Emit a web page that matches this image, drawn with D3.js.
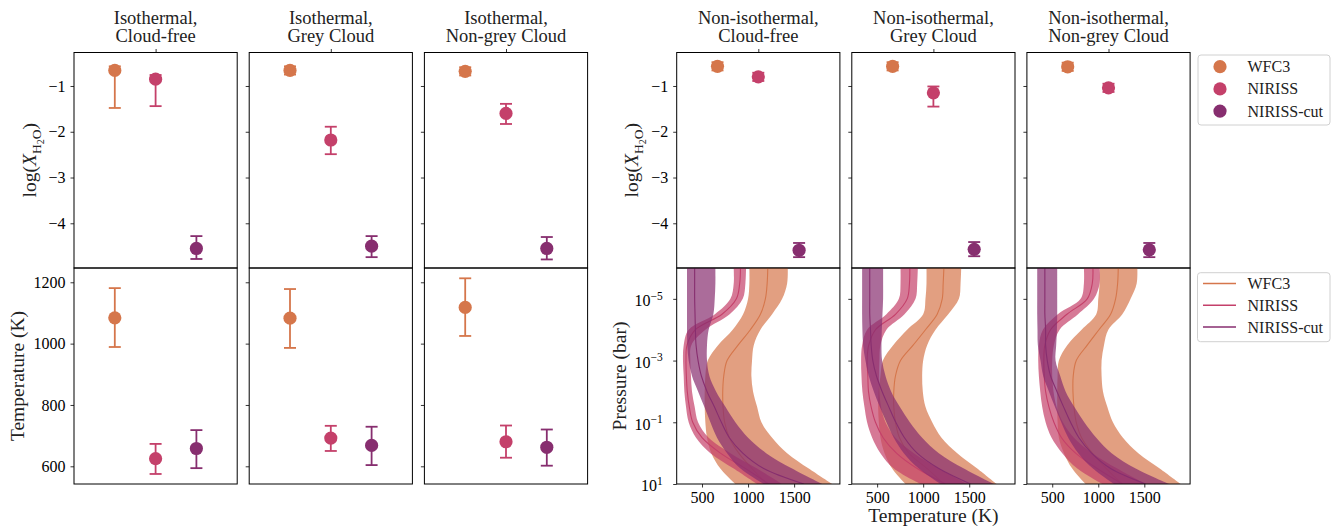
<!DOCTYPE html>
<html><head><meta charset="utf-8">
<script src="https://cdn.jsdelivr.net/npm/d3@7"></script>
<style>body{margin:0;background:#fff}</style>
</head><body>
<svg id="c" width="1341" height="528" xmlns="http://www.w3.org/2000/svg"></svg>
<script>
// ---------------- DATA ----------------
const instruments = ["WFC3", "NIRISS", "NIRISS-cut"];
const colors = ["#d5764b", "#c4406a", "#872e6f"];
const isoTitles = [["Isothermal,", "Cloud-free"], ["Isothermal,", "Grey Cloud"], ["Isothermal,", "Non-grey Cloud"]];
const nonIsoTitles = [["Non-isothermal,", "Cloud-free"], ["Non-isothermal,", "Grey Cloud"], ["Non-isothermal,", "Non-grey Cloud"]];

// log(X_H2O) per panel (6 panels), per instrument [WFC3, NIRISS, NIRISS-cut]
const h2oMed = [[-0.66, -0.85, -4.55], [-0.66, -2.18, -4.50], [-0.68, -1.60, -4.55],
                [-0.57, -0.80, -4.59], [-0.57, -1.15, -4.57], [-0.58, -1.04, -4.58]];
const h2oLo  = [[-1.48, -1.44, -4.78], [-0.75, -2.49, -4.74], [-0.77, -1.83, -4.79],
                [-0.66, -0.89, -4.74], [-0.66, -1.45, -4.72], [-0.67, -1.13, -4.74]];
const h2oHi  = [[-0.57, -0.76, -4.28], [-0.57, -1.89, -4.28], [-0.59, -1.39, -4.30],
                [-0.48, -0.71, -4.43], [-0.48, -1.01, -4.41], [-0.49, -0.95, -4.43]];
// Isothermal temperatures (K)
const tempMed = [[1084, 625, 658], [1083, 692, 668], [1118, 680, 662]];
const tempLo  = [[989, 575, 594], [986, 650, 604], [1025, 628, 602]];
const tempHi  = [[1181, 673, 718], [1178, 732, 729], [1213, 733, 720]];

const h2oTicks = [-4, -3, -2, -1];
const tempTicks = [600, 800, 1000, 1200];
const presTicks = [1e-5, 1e-3, 1e-1, 1e1];
const ptTempTicks = [500, 1000, 1500];

// P-T profiles: log10 pressure (bar) levels
const logP = [-6, -5.5, -5, -4.5, -4, -3.5, -3, -2.5, -2, -1.5, -1, -0.5, 0, 0.5, 1];
// Non-isothermal, Cloud-free
const free_WFC3_med = [1214, 1207, 1188, 1134, 1025, 891, 772, 736, 725, 728, 746, 797, 899, 1043, 1207];
const free_WFC3_lo  = [1014, 1014, 1000, 946, 833, 674, 562, 536, 529, 529, 536, 554, 601, 699, 862];
const free_WFC3_hi  = [1431, 1424, 1370, 1261, 1134, 1062, 1043, 1036, 1054, 1098, 1145, 1261, 1424, 1659, 1913];
const free_NIRISS_med = [917, 909, 873, 717, 428, 337, 326, 330, 340, 362, 399, 500, 699, 971, 1225];
const free_NIRISS_lo  = [844, 844, 808, 640, 355, 301, 293, 301, 308, 326, 355, 435, 591, 844, 1098];
const free_NIRISS_hi  = [978, 971, 942, 800, 536, 384, 373, 380, 391, 420, 457, 572, 808, 1098, 1370];
const free_CUT_med = [420, 420, 420, 424, 428, 435, 457, 493, 554, 634, 710, 797, 942, 1170, 1605];
const free_CUT_lo  = [337, 337, 337, 337, 337, 340, 355, 391, 457, 525, 591, 663, 772, 917, 1170];
const free_CUT_hi  = [645, 645, 638, 623, 572, 554, 554, 580, 652, 754, 862, 1000, 1196, 1478, 1804];
// Non-isothermal, Grey Cloud
const grey_WFC3_med = [1225, 1217, 1207, 1152, 1025, 891, 754, 699, 681, 681, 699, 743, 844, 1043, 1225];
const grey_WFC3_lo  = [1036, 1036, 1025, 1000, 826, 674, 562, 536, 514, 511, 518, 536, 580, 663, 808];
const grey_WFC3_hi  = [1413, 1406, 1388, 1272, 1134, 1043, 1000, 989, 996, 1025, 1098, 1199, 1370, 1587, 1797];
const grey_NIRISS_med = [855, 851, 826, 699, 482, 409, 391, 399, 406, 435, 482, 565, 710, 935, 1243];
const grey_NIRISS_lo  = [754, 754, 736, 601, 391, 337, 326, 330, 340, 362, 391, 446, 536, 681, 971];
const grey_NIRISS_hi  = [942, 935, 917, 797, 601, 536, 525, 522, 525, 543, 591, 699, 899, 1170, 1478];
const grey_CUT_med = [420, 420, 420, 420, 428, 435, 453, 493, 554, 627, 703, 797, 935, 1170, 1514];
const grey_CUT_lo  = [337, 337, 337, 337, 340, 348, 373, 409, 464, 529, 601, 681, 790, 953, 1188];
const grey_CUT_hi  = [565, 565, 565, 558, 551, 547, 554, 591, 652, 746, 855, 989, 1170, 1442, 1768];
// Non-isothermal, Non-grey Cloud
const nongrey_WFC3_med = [1217, 1210, 1188, 1134, 1007, 880, 761, 728, 725, 736, 761, 819, 935, 1087, 1261];
const nongrey_WFC3_lo  = [1014, 1014, 1000, 978, 819, 663, 572, 558, 554, 554, 558, 572, 627, 717, 862];
const nongrey_WFC3_hi  = [1424, 1417, 1351, 1261, 1109, 1062, 1036, 1036, 1051, 1098, 1159, 1268, 1435, 1667, 1895];
const nongrey_NIRISS_med = [942, 935, 880, 660, 482, 420, 409, 413, 428, 464, 518, 601, 754, 989, 1261];
const nongrey_NIRISS_lo  = [844, 844, 808, 560, 399, 355, 348, 355, 370, 391, 428, 493, 609, 772, 1043];
const nongrey_NIRISS_hi  = [1014, 1014, 953, 780, 580, 518, 500, 500, 514, 547, 616, 736, 935, 1207, 1514];
const nongrey_CUT_med = [420, 420, 420, 420, 428, 428, 446, 482, 551, 623, 699, 790, 928, 1134, 1514];
const nongrey_CUT_lo  = [337, 337, 337, 337, 340, 344, 373, 402, 464, 529, 598, 674, 783, 942, 1170];
const nongrey_CUT_hi  = [554, 554, 554, 554, 551, 543, 536, 587, 645, 739, 848, 978, 1145, 1406, 1768];

const ptPanels = [
  [[free_WFC3_med, free_WFC3_lo, free_WFC3_hi], [free_NIRISS_med, free_NIRISS_lo, free_NIRISS_hi], [free_CUT_med, free_CUT_lo, free_CUT_hi]],
  [[grey_WFC3_med, grey_WFC3_lo, grey_WFC3_hi], [grey_NIRISS_med, grey_NIRISS_lo, grey_NIRISS_hi], [grey_CUT_med, grey_CUT_lo, grey_CUT_hi]],
  [[nongrey_WFC3_med, nongrey_WFC3_lo, nongrey_WFC3_hi], [nongrey_NIRISS_med, nongrey_NIRISS_lo, nongrey_NIRISS_hi], [nongrey_CUT_med, nongrey_CUT_lo, nongrey_CUT_hi]]
];

// ---------------- LAYOUT ----------------
const FONT = "'Liberation Serif','Times New Roman',serif";
const PW = 163.2;
const leftX = [74, 249.2, 424.4];
const rightX = [676.7, 851.8, 1026.9];
const TOP = 52.5, MID = 268, BOT = 484;
const TICK = 3.5;

const svg = d3.select("#c");
const defs = svg.append("defs");

const yH2O = d3.scaleLinear().domain([-4.977, -0.268]).range([MID, TOP]);
const yTemp = d3.scaleLinear().domain([542.3, 1246.6]).range([BOT, MID]);
const yPres = d3.scaleLog().domain([1e-6, 1e1]).range([MID, BOT]);

function styleAxis(g, fs) {
  g.attr("font-family", FONT).attr("font-size", fs);
  g.select(".domain").remove();
  g.selectAll(".tick line").attr("stroke", "#000").attr("stroke-width", 0.8);
  g.selectAll(".tick text").attr("fill", "#000");
}
function frame(x0, y0, w, h) {
  svg.append("rect").attr("x", x0).attr("y", y0).attr("width", w).attr("height", h)
    .attr("fill", "none").attr("stroke", "#000").attr("stroke-width", 1);
}
function title(x0, lines) {
  const cx = x0 + PW / 2;
  lines.forEach((t, i) => {
    svg.append("text").attr("x", cx).attr("y", 24 + i * 17.5).attr("text-anchor", "middle")
      .attr("font-family", FONT).attr("font-size", 18.5).attr("fill", "#222").text(t);
  });
}
function errPoint(g, x, y, xv, med, lo, hi, color) {
  const cx = x(xv);
  g.append("line").attr("x1", cx).attr("x2", cx).attr("y1", y(lo)).attr("y2", y(hi))
    .attr("stroke", color).attr("stroke-width", 1.8);
  [lo, hi].forEach(v => g.append("line").attr("x1", cx - 6).attr("x2", cx + 6)
    .attr("y1", y(v)).attr("y2", y(v)).attr("stroke", color).attr("stroke-width", 1.8));
  g.append("circle").attr("cx", cx).attr("cy", y(med)).attr("r", 6.6).attr("fill", color);
}

function h2oPanel(x0, idx, labeled) {
  const x = d3.scaleLinear().domain([-1, 3]).range([x0, x0 + PW]);
  const ga = svg.append("g").attr("transform", `translate(${x0},0)`)
    .call(d3.axisLeft(yH2O).tickValues(h2oTicks).tickSize(TICK).tickPadding(5)
      .tickFormat(labeled ? d3.format("d") : () => ""));
  styleAxis(ga, 16);
  const gt = svg.append("g").attr("transform", `translate(0,${TOP})`)
    .call(d3.axisTop(x).tickValues([1]).tickSize(TICK).tickFormat(() => ""));
  styleAxis(gt, 16);
  const g = svg.append("g");
  instruments.forEach((name, i) => errPoint(g, x, yH2O, i, h2oMed[idx][i], h2oLo[idx][i], h2oHi[idx][i], colors[i]));
  frame(x0, TOP, PW, MID - TOP);
}
function tempPanel(x0, idx, labeled) {
  const x = d3.scaleLinear().domain([-1, 3]).range([x0, x0 + PW]);
  const ga = svg.append("g").attr("transform", `translate(${x0},0)`)
    .call(d3.axisLeft(yTemp).tickValues(tempTicks).tickSize(TICK).tickPadding(5)
      .tickFormat(labeled ? d3.format("d") : () => ""));
  styleAxis(ga, 16);
  const g = svg.append("g");
  instruments.forEach((name, i) => errPoint(g, x, yTemp, i, tempMed[idx][i], tempLo[idx][i], tempHi[idx][i], colors[i]));
  frame(x0, MID, PW, BOT - MID);
}
function ptPanel(x0, idx, labeled) {
  const x = d3.scaleLinear().domain([225, 1997]).range([x0, x0 + PW]);
  const cid = "clip" + idx;
  defs.append("clipPath").attr("id", cid).append("rect")
    .attr("x", x0).attr("y", MID).attr("width", PW).attr("height", BOT - MID);
  const g = svg.append("g").attr("clip-path", `url(#${cid})`);
  const curve = d3.curveCatmullRom.alpha(0.5);
  ptPanels[idx].forEach((prof, i) => {
    const [med, lo, hi] = prof;
    const pts = logP.map((lp, k) => ({p: Math.pow(10, lp), med: med[k], lo: lo[k], hi: hi[k]}));
    const area = d3.area().y(d => yPres(d.p)).x0(d => x(d.lo)).x1(d => x(d.hi)).curve(curve);
    g.append("path").attr("d", area(pts)).attr("fill", colors[i]).attr("fill-opacity", 0.7).attr("stroke", "none");
    const line = d3.line().y(d => yPres(d.p)).x(d => x(d.med)).curve(curve);
    g.append("path").attr("d", line(pts)).attr("fill", "none").attr("stroke", colors[i]).attr("stroke-width", 1.1);
  });
  const ga = svg.append("g").attr("transform", `translate(${x0},0)`)
    .call(d3.axisLeft(yPres).tickValues(presTicks).tickSize(TICK).tickFormat(() => ""));
  styleAxis(ga, 16);
  if (labeled) {
    ga.selectAll(".tick").each(function(d) {
      const e = Math.round(Math.log10(d));
      const t = d3.select(this).append("text").attr("x", -14).attr("y", 0).attr("dy", "0.42em")
        .attr("text-anchor", "end").attr("fill", "#000").attr("font-size", 16);
      t.append("tspan").text("10");
      t.append("tspan").attr("dy", "-0.55em").attr("font-size", 11.5).text(e < 0 ? "\u2212" + (-e) : String(e));
    });
  }
  const gb = svg.append("g").attr("transform", `translate(0,${BOT})`)
    .call(d3.axisBottom(x).tickValues(ptTempTicks).tickSize(TICK).tickPadding(4).tickFormat(d3.format("d")));
  styleAxis(gb, 16);
  frame(x0, MID, PW, BOT - MID);
}

// ---------------- DRAW ----------------
leftX.forEach((x0, i) => { title(x0, isoTitles[i]); h2oPanel(x0, i, i === 0); tempPanel(x0, i, i === 0); });
rightX.forEach((x0, i) => { title(x0, nonIsoTitles[i]); h2oPanel(x0, i + 3, i === 0); ptPanel(x0, i, i === 0); });

// axis labels
function h2oLabel(xb, yc) {
  const t = svg.append("text").attr("transform", `translate(${xb},${yc}) rotate(-90)`)
    .attr("text-anchor", "middle").attr("font-family", FONT).attr("font-size", 19.5).attr("fill", "#222");
  t.append("tspan").text("log(");
  t.append("tspan").attr("font-style", "italic").text("X");
  t.append("tspan").attr("dy", 4.5).attr("font-size", 13.5).text("H");
  t.append("tspan").attr("dy", 3).attr("font-size", 10).text("2");
  t.append("tspan").attr("dy", -3).attr("font-size", 13.5).text("O");
  t.append("tspan").attr("dy", -4.5).text(")");
}
function rotLabel(xb, yc, txt) {
  svg.append("text").attr("transform", `translate(${xb},${yc}) rotate(-90)`)
    .attr("text-anchor", "middle").attr("font-family", FONT).attr("font-size", 19.5).attr("fill", "#222").text(txt);
}
h2oLabel(36, (TOP + MID) / 2);
h2oLabel(638, (TOP + MID) / 2);
rotLabel(24, (MID + BOT) / 2, "Temperature (K)");
rotLabel(626, (MID + BOT) / 2, "Pressure (bar)");
svg.append("text").attr("x", rightX[1] + PW / 2).attr("y", 522).attr("text-anchor", "middle")
  .attr("font-family", FONT).attr("font-size", 19.5).attr("fill", "#222").text("Temperature (K)");

// legends
function legendBox(x, y, w, h) {
  svg.append("rect").attr("x", x).attr("y", y).attr("width", w).attr("height", h).attr("rx", 3)
    .attr("fill", "#fff").attr("fill-opacity", 0.8).attr("stroke", "#d0d0d0").attr("stroke-width", 1);
}
legendBox(1198, 55, 132, 70);
instruments.forEach((name, i) => {
  const yy = 66.7 + i * 22.2;
  svg.append("circle").attr("cx", 1220).attr("cy", yy).attr("r", 6.6).attr("fill", colors[i]);
  svg.append("text").attr("x", 1247.5).attr("y", yy + 5.5).attr("font-family", FONT).attr("font-size", 16)
    .attr("fill", "#222").text(name);
});
legendBox(1197.5, 272.7, 132.5, 69);
instruments.forEach((name, i) => {
  const yy = 283.5 + i * 21.8;
  svg.append("line").attr("x1", 1203).attr("x2", 1236).attr("y1", yy).attr("y2", yy)
    .attr("stroke", colors[i]).attr("stroke-width", 1.5);
  svg.append("text").attr("x", 1247.5).attr("y", yy + 5.5).attr("font-family", FONT).attr("font-size", 16)
    .attr("fill", "#222").text(name);
});
</script>
</body></html>
